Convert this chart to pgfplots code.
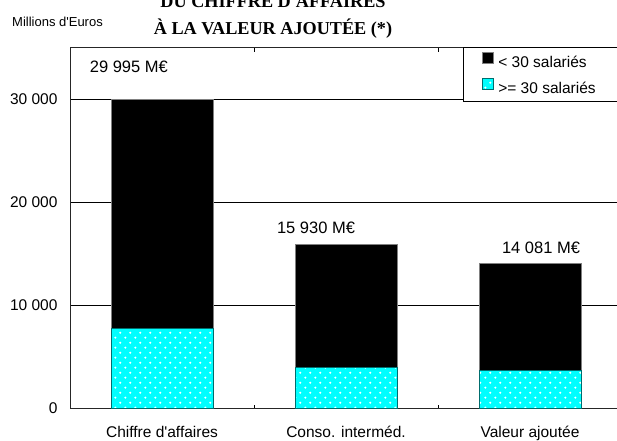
\documentclass[border=0pt]{standalone}
\usepackage{fontspec}
\setmainfont{Liberation Sans}
\newfontfamily\titlefont{Liberation Serif}
\usepackage{pgfplots}
\pgfplotsset{compat=1.18}
\usetikzlibrary{patterns.meta}
\definecolor{cyanbar}{RGB}{0,255,255}
\definecolor{cyanedge}{RGB}{0,110,110}

\tikzdeclarepattern{
  name=wdots,
  type=uncolored,
  bounding box={(0pt,0pt) and (10.3pt,10.3pt)},
  tile size={(10.3pt,10.3pt)},
  code={\fill (2.5pt,2.5pt) circle (1.2pt); \fill (7.65pt,7.65pt) circle (1.2pt);}
}

\begin{document}
\begin{tikzpicture}
\path[use as bounding box] (0pt,0pt) rectangle (617pt,440pt);
\clip (0pt,0pt) rectangle (617pt,440pt);
\begin{axis}[
  at={(70pt,31.5pt)}, anchor=south west,
  scale only axis, width=552pt, height=361pt,
  xmin=-0.5, xmax=2.5, ymin=0, ymax=35000,
  scaled y ticks=false,
  ybar stacked, bar width=0.554,
  xtick={0,1,2},
  xticklabels={{Chiffre d\textquotesingle affaires},{Conso. interméd.},{Valeur ajoutée}},
  minor xtick={0.5,1.5},
  ytick={0,10000,20000,30000},
  yticklabels={0,10 000,20 000,30 000},
  major tick length=0pt, minor tick length=4pt, tick align=inside,
  minor tick style={black, line width=1pt},
  ymajorgrids, major grid style={black, line width=1pt},
  axis line style={draw=black!85, line width=1pt},
  tick label style={font=\fontsize{15.5}{18}\selectfont},
  xticklabel style={anchor=base, yshift=-29pt},
  yticklabel style={anchor=east, xshift=-9pt},
  legend style={at={(0.712,1.002)}, anchor=north west, draw=black, line width=1pt,
    fill=white, font=\fontsize{15.5}{18}\selectfont, inner xsep=18pt, inner ysep=5pt,
    row sep=7pt, /tikz/every odd column/.append style={column sep=3pt}},
  legend cell align=left,
  reverse legend,
  legend image code/.code={\draw[#1, line width=0.8pt] (0pt,-1pt) rectangle (11pt,10pt);},
]
\addplot[fill=cyanbar, draw=cyanedge, line width=0.8pt,
  postaction={pattern color=white, pattern=wdots}]
  coordinates {(0,7760) (1,4000) (2,3690)};
\addlegendentry{\makebox[106pt][l]{>= 30 salariés}}
\addplot[fill=black, draw=gray, line width=0.8pt]
  coordinates {(0,22235) (1,11930) (2,10391)};
\addlegendentry{< 30 salariés}
\node[anchor=base, font=\fontsize{16.5}{18}\selectfont] at (axis cs:-0.18,32600) {29 995 M€};
\node[anchor=base, font=\fontsize{16.5}{18}\selectfont] at (axis cs:0.837,16970) {15 930 M€};
\node[anchor=base, font=\fontsize{16.5}{18}\selectfont] at (axis cs:2.06,15030) {14 081 M€};
\end{axis}
\node[anchor=base, inner sep=0pt, font=\titlefont\bfseries\fontsize{18.2}{20}\selectfont] at (273pt,432pt) {DU CHIFFRE D\textquotesingle AFFAIRES};
\node[anchor=base, inner sep=0pt, font=\titlefont\bfseries\fontsize{18.2}{20}\selectfont] at (273pt,405pt) {À LA VALEUR AJOUTÉE (*)};
\node[anchor=base west, inner sep=0pt, font=\fontsize{13}{15}\selectfont] at (12pt,413pt) {Millions d\textquotesingle Euros};
\end{tikzpicture}
\end{document}
